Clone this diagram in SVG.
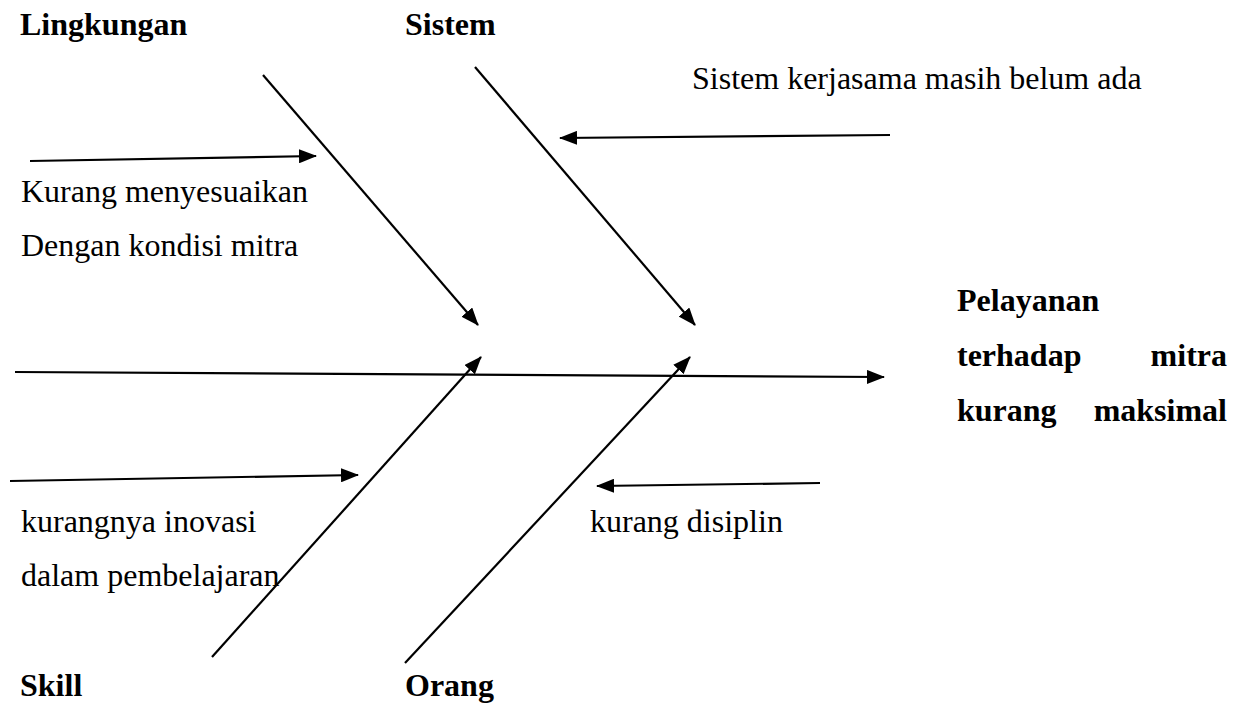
<svg xmlns="http://www.w3.org/2000/svg" width="1236" height="704" viewBox="0 0 1236 704">
  <style>
    .t { font-family: "Liberation Serif", "Times New Roman", serif; font-size: 32px; fill: #000; }
    .b { font-weight: bold; }
    .ln { stroke: #000; stroke-width: 2.2; fill: none; marker-end: url(#ah); }
  </style>
  <defs>
    <marker id="ah" markerUnits="userSpaceOnUse" markerWidth="18" markerHeight="14" refX="17" refY="7" orient="auto">
      <path d="M0,0 L18,7 L0,14 z" fill="#000"/>
    </marker>
  </defs>
  <rect width="1236" height="704" fill="#fff"/>
  <g id="connectors">
    <line class="ln" x1="15" y1="372" x2="884" y2="377"/>
    <line class="ln" x1="263" y1="75" x2="478" y2="325"/>
    <line class="ln" x1="475" y1="67" x2="695" y2="325"/>
    <line class="ln" x1="212" y1="657" x2="481" y2="357"/>
    <line class="ln" x1="405" y1="663" x2="690" y2="357"/>
    <line class="ln" x1="30" y1="161" x2="316" y2="156"/>
    <line class="ln" x1="890" y1="135" x2="560" y2="138"/>
    <line class="ln" x1="10" y1="481" x2="358" y2="475"/>
    <line class="ln" x1="820" y1="483" x2="597" y2="486"/>
  </g>
  <g id="lingkungan"><text class="t b" x="20" y="35">Lingkungan</text></g>
  <g id="sistem"><text class="t b" x="405" y="35">Sistem</text></g>
  <g id="skill"><text class="t b" x="20" y="696">Skill</text></g>
  <g id="orang"><text class="t b" x="405" y="696">Orang</text></g>
  <g id="cause-sistem"><text class="t" x="692" y="89">Sistem kerjasama masih belum ada</text></g>
  <g id="cause-lingkungan">
    <text class="t" x="21" y="202">Kurang menyesuaikan</text>
    <text class="t" x="21" y="256">Dengan kondisi mitra</text>
  </g>
  <g id="cause-skill">
    <text class="t" x="21" y="532">kurangnya inovasi</text>
    <text class="t" x="21" y="586">dalam pembelajaran</text>
  </g>
  <g id="cause-orang"><text class="t" x="590" y="532">kurang disiplin</text></g>
  <g id="effect">
    <text class="t b" x="957" y="311">Pelayanan</text>
    <text class="t b" x="957" y="366">terhadap</text>
    <text class="t b" x="1227" y="366" text-anchor="end">mitra</text>
    <text class="t b" x="957" y="421">kurang</text>
    <text class="t b" x="1227" y="421" text-anchor="end">maksimal</text>
  </g>
</svg>
